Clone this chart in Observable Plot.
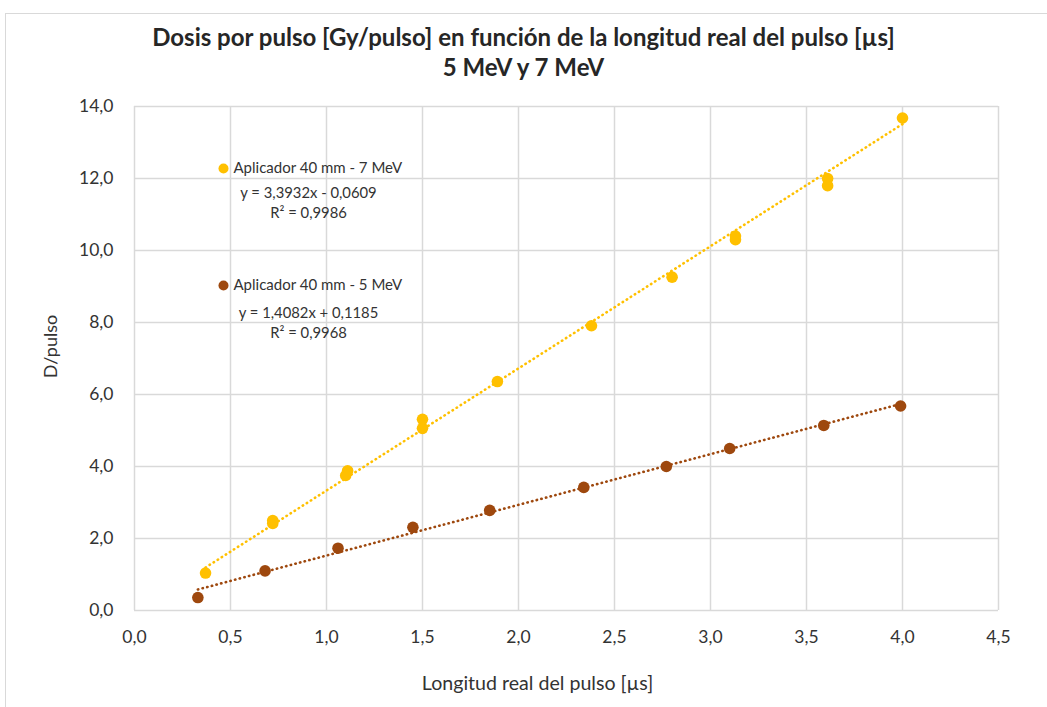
<!DOCTYPE html>
<html>
<head>
<meta charset="utf-8">
<script src="https://cdn.jsdelivr.net/npm/d3@7"></script>
<script src="https://cdn.jsdelivr.net/npm/@observablehq/plot@0.6"></script>
<style>
  html, body { margin: 0; padding: 0; background: #fff; overflow: hidden; width: 1047px; height: 707px; }
  #frame { position: absolute; left: 5px; top: 13px; width: 1100px; height: 800px; border: 1px solid #d9d9d9; box-sizing: border-box; }
  #wrap { position: absolute; left: 0; top: 0; width: 1047px; }
  #title { height: 90px; box-sizing: border-box; padding-top: 22px; text-align: center; font-family: Lato, sans-serif; font-weight: bold; font-size: 24px; line-height: 30px; color: #262626; }
  #chart svg { background: transparent !important; }
</style>
</head>
<body>
<div id="frame"></div>
<div id="wrap">
  <div id="title"><div>Dosis por pulso [Gy/pulso] en función de la longitud real del pulso [µs]</div><div>5 MeV y 7 MeV</div></div>
  <div id="chart"></div>
</div>
<script>
// ---- data ----
const series7Label = "Aplicador 40 mm - 7 MeV";
const series5Label = "Aplicador 40 mm - 5 MeV";
const x7 = [0.37, 0.72, 0.72, 1.10, 1.11, 1.50, 1.50, 1.89, 2.38, 2.80, 3.13, 3.13, 3.61, 3.61, 4.00];
const y7 = [1.04, 2.42, 2.50, 3.75, 3.88, 5.06, 5.31, 6.36, 7.91, 9.26, 10.30, 10.40, 11.80, 12.00, 13.68];
const x5 = [0.33, 0.68, 1.06, 1.45, 1.85, 2.34, 2.77, 3.10, 3.59, 3.99];
const y5 = [0.36, 1.10, 1.73, 2.31, 2.78, 3.42, 4.00, 4.50, 5.14, 5.68];
const fit7 = {slope: 3.3932, intercept: -0.0609, eq: "y = 3,3932x - 0,0609", r2: "R² = 0,9986"};
const fit5 = {slope: 1.4082, intercept: 0.1185, eq: "y = 1,4082x + 0,1185", r2: "R² = 0,9968"};
const xTicks = [0, 0.5, 1, 1.5, 2, 2.5, 3, 3.5, 4, 4.5];
const yTicks = [0, 2, 4, 6, 8, 10, 12, 14];
const xLabel = "Longitud real del pulso [µs]";
const yLabel = "D/pulso";
const color7 = "#FFC000";
const color5 = "#9E480E";

const pts7 = x7.map((x, i) => ({x, y: y7[i]}));
const pts5 = x5.map((x, i) => ({x, y: y5[i]}));
const trend = (xs, f) => d3.extent(xs).map(x => ({x, y: f.slope * x + f.intercept}));
const t7 = trend(x7, fit7);
const t5 = trend(x5, fit5);
const fmt = d => d.toFixed(1).replace(".", ",");

const font = "Lato, sans-serif";
const textCol = "#333333";

const chart = Plot.plot({
  width: 1047,
  height: 617,
  marginLeft: 134,
  marginRight: 49,
  marginTop: 16,
  marginBottom: 97,
  style: {fontFamily: font, background: "transparent", overflow: "visible"},
  x: {domain: [0, 4.5], label: null},
  y: {domain: [0, 14], label: null},
  marks: [
    Plot.gridX(xTicks, {stroke: "#d9d9d9", strokeOpacity: 1, strokeWidth: 1.5}),
    Plot.gridY(yTicks, {stroke: "#d9d9d9", strokeOpacity: 1, strokeWidth: 1.5}),
    Plot.axisX({ticks: xTicks, tickFormat: fmt, tickSize: 0, tickPadding: 20, fontSize: 17.5, fill: textCol, label: null}),
    Plot.axisY({ticks: yTicks, tickFormat: fmt, tickSize: 0, tickPadding: 21, fontSize: 17.5, fill: textCol, label: null}),
    Plot.text([xLabel], {frameAnchor: "bottom", dx: -29, dy: 73, lineAnchor: "middle", text: d => d, fontSize: 19.6, fill: textCol}),
    Plot.text([yLabel], {frameAnchor: "left", dx: -83, dy: -12, rotate: -90, textAnchor: "middle", lineAnchor: "middle", text: d => d, fontSize: 18, fill: textCol}),
    Plot.line(t7, {x: "x", y: "y", stroke: color7, strokeWidth: 2.6, strokeDasharray: "0.4,4.4", strokeLinecap: "round"}),
    Plot.line(t5, {x: "x", y: "y", stroke: color5, strokeWidth: 2.6, strokeDasharray: "0.4,4.4", strokeLinecap: "round"}),
    Plot.dot(pts7, {x: "x", y: "y", r: 5.8, fill: color7, stroke: "none"}),
    Plot.dot(pts5, {x: "x", y: "y", r: 5.8, fill: color5, stroke: "none"}),
    // legend / annotations
    Plot.dot([series7Label], {frameAnchor: "top-left", dx: 89, dy: 62, r: 5, fill: color7}),
    Plot.text([series7Label], {frameAnchor: "top-left", dx: 99, dy: 62, lineAnchor: "middle", text: d => d, textAnchor: "start", fontSize: 15, fill: textCol}),
    Plot.text([fit7.eq], {frameAnchor: "top-left", dx: 174, dy: 87, lineAnchor: "middle", text: d => d, textAnchor: "middle", fontSize: 14.8, fill: textCol}),
    Plot.text([fit7.r2], {frameAnchor: "top-left", dx: 174, dy: 107, lineAnchor: "middle", text: d => d, textAnchor: "middle", fontSize: 14.8, fill: textCol}),
    Plot.dot([series5Label], {frameAnchor: "top-left", dx: 89, dy: 179, r: 5, fill: color5}),
    Plot.text([series5Label], {frameAnchor: "top-left", dx: 99, dy: 179, lineAnchor: "middle", text: d => d, textAnchor: "start", fontSize: 15, fill: textCol}),
    Plot.text([fit5.eq], {frameAnchor: "top-left", dx: 174, dy: 207, lineAnchor: "middle", text: d => d, textAnchor: "middle", fontSize: 14.8, fill: textCol}),
    Plot.text([fit5.r2], {frameAnchor: "top-left", dx: 174, dy: 227, lineAnchor: "middle", text: d => d, textAnchor: "middle", fontSize: 14.8, fill: textCol})
  ]
});
document.getElementById("chart").appendChild(chart);
</script>
</body>
</html>
